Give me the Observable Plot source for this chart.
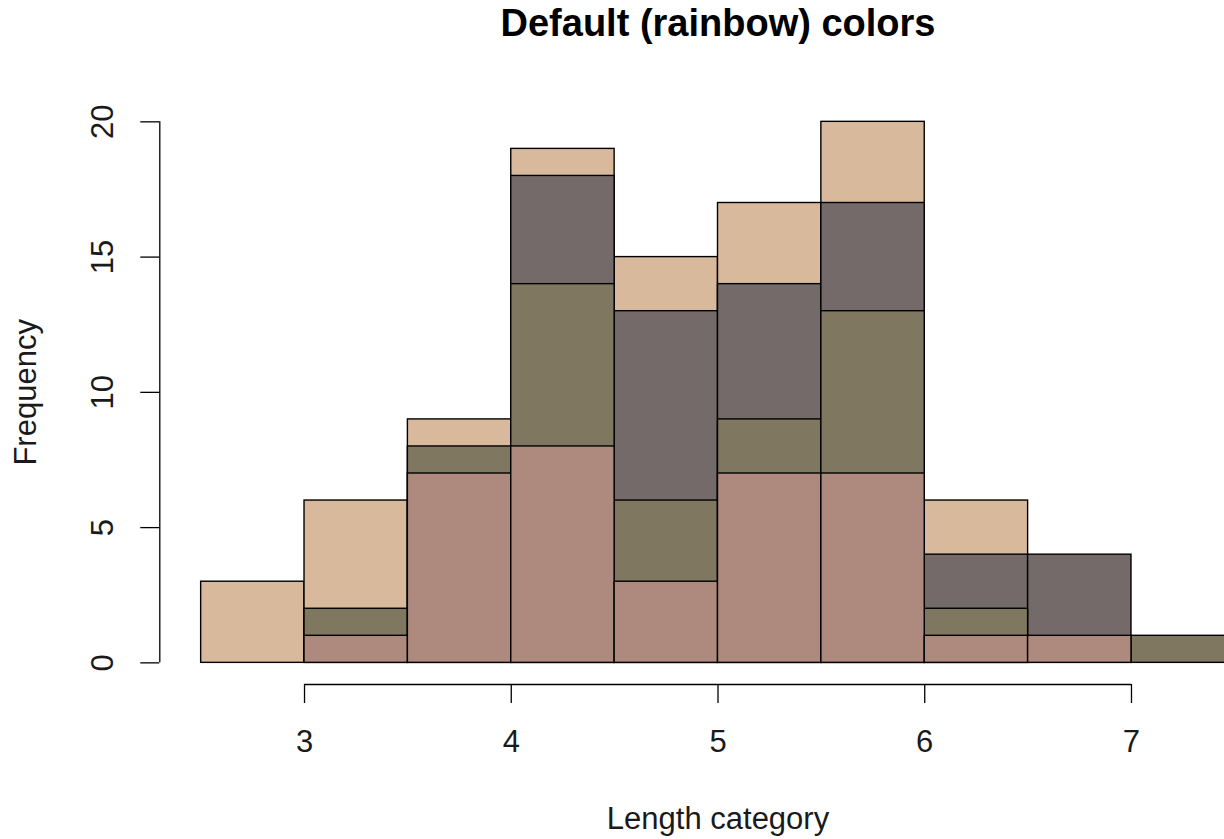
<!DOCTYPE html>
<html>
<head>
<meta charset="utf-8">
<script src="https://cdn.jsdelivr.net/npm/d3@7"></script>
<script src="https://cdn.jsdelivr.net/npm/@observablehq/plot@0.6"></script>
<style>
  html, body { margin: 0; padding: 0; background: #fff; overflow: hidden; }
  #chart svg { overflow: hidden; }
</style>
</head>
<body>
<div id="chart"></div>
<script>
// Histogram bins: left edges, each 0.5 wide
const binStarts = [2.5, 3, 3.5, 4, 4.5, 5, 5.5, 6, 6.5, 7];
const binWidth = 0.5;

// Frequencies of the overlaid layers, drawn back to front
const tanCounts   = [3, 6, 9, 19, 15, 17, 20, 6, 0, 0];
const greyCounts  = [0, 0, 0, 18, 13, 14, 17, 4, 4, 0];
const oliveCounts = [0, 2, 8, 14, 6, 9, 13, 2, 0, 1];
const pinkCounts  = [0, 1, 7, 8, 3, 7, 7, 1, 1, 0];
const layerColors = ["#d9b99b", "#746a6a", "#807761", "#ad897e"];

const xTicks = [3, 4, 5, 6, 7];
const yTicks = [0, 5, 10, 15, 20];

const titleText = "Default (rainbow) colors";
const xLabel = "Length category";
const yLabel = "Frequency";

// Long table: one rectangle per layer and bin
const layers = [tanCounts, greyCounts, oliveCounts, pinkCounts];
const rects = layers.flatMap((counts, k) =>
  binStarts.map((x0, i) => ({x0, x1: x0 + binWidth, n: counts[i], color: layerColors[k]}))
).filter(d => d.n > 0);

// Plot region extends 4% beyond the data range, as in base R
const xDomain = [2.3, 7.7];
const yDomain = [-0.04 * 20, 20 + 0.04 * 20];

const font = "'Liberation Sans', Arial, Helvetica, sans-serif";

const chart = Plot.plot({
  width: 1224,
  height: 839,
  marginLeft: 159.3,
  marginRight: -51.7,
  marginTop: 99.7,
  marginBottom: 155,
  style: {fontFamily: font, color: "black", background: "white", overflow: "hidden"},
  x: {domain: xDomain, axis: null},
  y: {domain: yDomain, axis: null},
  color: {type: "identity"},
  marks: [
    Plot.rect(rects, {
      x1: "x0", x2: "x1", y1: 0, y2: "n",
      fill: "color", stroke: "black", strokeWidth: 1.4
    }),
    // axis lines
    Plot.ruleX([xDomain[0]], {y1: yTicks[0], y2: yTicks[yTicks.length - 1], stroke: "black", strokeWidth: 1.3}),
    Plot.ruleY([yDomain[0]], {x1: xTicks[0], x2: xTicks[xTicks.length - 1], stroke: "black", strokeWidth: 1.3}),
    // tick marks
    Plot.axisX(xTicks, {tickSize: 19, tickFormat: () => "", label: null, strokeWidth: 1.3}),
    Plot.axisY(yTicks, {tickSize: 19, tickFormat: () => "", label: null, strokeWidth: 1.3}),
    // tick labels
    Plot.text(xTicks, {x: d => d, frameAnchor: "bottom", lineAnchor: "middle", textAnchor: "middle", dy: 58, fontSize: 31, fill: "#1a1a1a"}),
    Plot.text(yTicks, {y: d => d, frameAnchor: "left", lineAnchor: "middle", textAnchor: "middle", dx: -57, rotate: -90, fontSize: 31, fill: "#1a1a1a"}),
    // titles
    Plot.text([titleText], {frameAnchor: "top", lineAnchor: "middle", textAnchor: "middle", dy: -76, fontSize: 38, fontWeight: "bold", fill: "black"}),
    Plot.text([xLabel], {frameAnchor: "bottom", lineAnchor: "middle", textAnchor: "middle", dy: 135, fontSize: 31, fill: "#1a1a1a"}),
    Plot.text([yLabel], {frameAnchor: "left", lineAnchor: "middle", textAnchor: "middle", dx: -134, rotate: -90, fontSize: 31, fill: "#1a1a1a"})
  ]
});

document.getElementById("chart").appendChild(chart);
</script>
</body>
</html>
